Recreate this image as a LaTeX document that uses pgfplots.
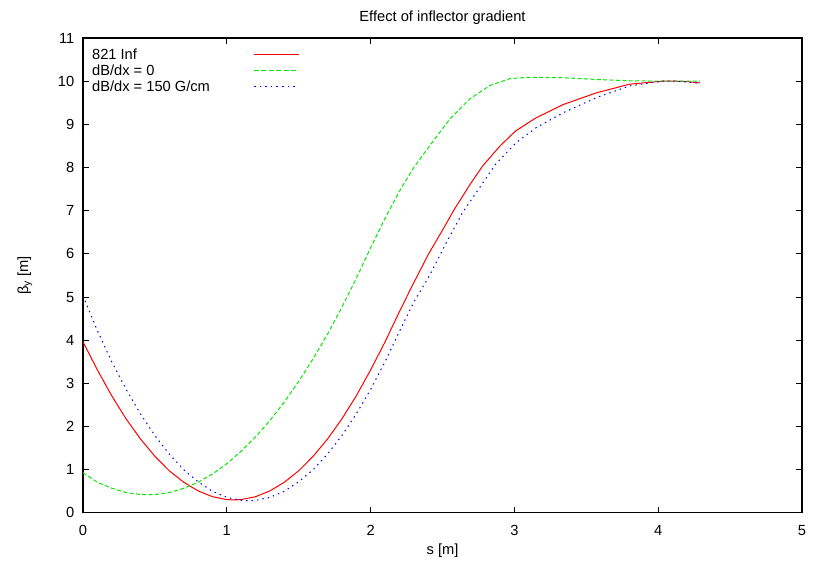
\documentclass[border=0pt]{standalone}
\usepackage{fontspec}
\setmainfont{Liberation Sans}
\usepackage{pgfplots}
\pgfplotsset{compat=1.18}

\definecolor{gpred}{RGB}{255,0,0}
\definecolor{gpgreen}{RGB}{0,235,0}
\definecolor{gpblue}{RGB}{0,0,255}

% legend samples, set as coloured rules so xdvipdfmx keeps the colour
\newcommand{\keytext}[1]{\makebox[121.3pt][l]{#1}}
\newcommand{\dsh}{\rule[3.4pt]{3.6pt}{0.75pt}\hspace{2pt}}
\newcommand{\dt}{\rule[3.4pt]{1.2pt}{0.75pt}\hspace{3pt}}

\begin{document}
\begin{tikzpicture}
\begin{axis}[
  scale only axis,
  width=539pt, height=356pt,
  xmin=0, xmax=5, ymin=0, ymax=11,
  xtick={0,1,2,3,4,5},
  ytick={0,1,2,3,4,5,6,7,8,9,10,11},
  font=\fontsize{11}{13}\selectfont,
  /pgf/number format/assume math mode=true,
  tick label style={font=\fontsize{11}{13}\selectfont},
  xticklabel style={yshift=-6pt},
  yticklabel style={xshift=-3pt},
  axis line style={line width=0.8pt},
  tick style={line width=0.6pt, black},
  major tick length=4.5pt,
  xlabel={s [m]},
  ylabel={β\textsubscript{y} [m]},
  xlabel style={at={(axis description cs:0.5,-0.088)}, anchor=base},
  ylabel style={at={(axis description cs:-0.0765,0.5)}, anchor=base},
  title={Effect of inflector gradient},
  every axis title/.style={at={(axis description cs:0.5,1.035)}, anchor=base},
  legend plot pos=none,
  legend cell align=left,
  legend style={at={(axis description cs:0.003,0.989)}, anchor=north west,
    draw=none, fill=none, row sep=-1.6pt},
]
\coordinate (bl) at (rel axis cs:0,0);
\coordinate (tr) at (rel axis cs:1,1);
\addplot[gpred, line width=0.75pt] coordinates {
  (0.0,3.96) (0.1,3.31) (0.2,2.71) (0.3,2.175) (0.4,1.71) (0.5,1.31)
  (0.6,0.975) (0.7,0.71) (0.8,0.51) (0.9,0.375) (1.0,0.308) (1.05,0.30)
  (1.1,0.308) (1.2,0.375) (1.3,0.51) (1.4,0.71) (1.5,0.975) (1.6,1.31)
  (1.7,1.71) (1.8,2.175) (1.9,2.71) (2.0,3.31) (2.1,3.96) (2.2,4.66)
  (2.3,5.33) (2.4,5.98) (2.5,6.55) (2.58,7.02) (2.69,7.6) (2.78,8.04)
  (2.9,8.5) (3.01,8.85) (3.15,9.15) (3.34,9.46) (3.57,9.73) (3.8,9.93)
  (4.03,10.0) (4.12,10.0) (4.2,9.99) (4.29,9.96)
};
\addlegendentry{\keytext{821 Inf}\textcolor{gpred}{\rule[3.4pt]{34pt}{0.75pt}}}
\addplot[gpgreen, line width=0.75pt, dash pattern=on 3pt off 1.8pt] coordinates {
  (0.0,0.93) (0.1,0.71) (0.2,0.57) (0.3,0.47) (0.4,0.426) (0.45,0.42)
  (0.5,0.426) (0.6,0.47) (0.7,0.57) (0.8,0.71) (0.9,0.90) (1.0,1.14)
  (1.1,1.43) (1.2,1.76) (1.3,2.14) (1.4,2.57) (1.5,3.045) (1.6,3.57)
  (1.7,4.14) (1.8,4.76) (1.9,5.43) (2.0,6.14) (2.1,6.82) (2.2,7.45)
  (2.3,8.0) (2.41,8.5) (2.55,9.12) (2.69,9.59) (2.83,9.9) (2.97,10.06)
  (3.1,10.09) (3.34,10.08) (3.57,10.04) (3.8,10.01) (4.03,10.0) (4.29,10.0)
};
\addlegendentry{\keytext{dB/dx = 0}\textcolor{gpgreen}{\dsh\dsh\dsh\dsh\dsh\rule[3.4pt]{3.6pt}{0.75pt}}}
\addplot[gpblue, line width=0.75pt, dash pattern=on 1.1pt off 3pt] coordinates {
  (0.0,5.03) (0.1,4.22) (0.2,3.50) (0.3,2.86) (0.4,2.29) (0.5,1.79)
  (0.6,1.36) (0.7,1.00) (0.8,0.72) (0.9,0.50) (1.0,0.36) (1.1,0.29)
  (1.15,0.28) (1.2,0.29) (1.3,0.36) (1.4,0.50) (1.5,0.72) (1.6,1.00)
  (1.7,1.36) (1.8,1.79) (1.9,2.29) (2.0,2.86) (2.1,3.50) (2.2,4.20)
  (2.3,4.88) (2.41,5.5) (2.525,6.25) (2.64,6.96) (2.757,7.53) (2.87,8.08)
  (3.01,8.57) (3.15,8.92) (3.34,9.27) (3.57,9.62) (3.8,9.89) (4.03,10.0)
  (4.12,10.0) (4.2,9.98) (4.29,9.95)
};
\addlegendentry{\keytext{dB/dx = 150 G/cm}\textcolor{gpblue}{\dt\dt\dt\dt\dt\dt\dt\rule[3.4pt]{1.2pt}{0.75pt}}}
\end{axis}
\pgfresetboundingbox
\path[use as bounding box] ([xshift=-62.25pt,yshift=-39pt]bl) rectangle ([xshift=11.25pt,yshift=28.5pt]tr);
\end{tikzpicture}
\end{document}
